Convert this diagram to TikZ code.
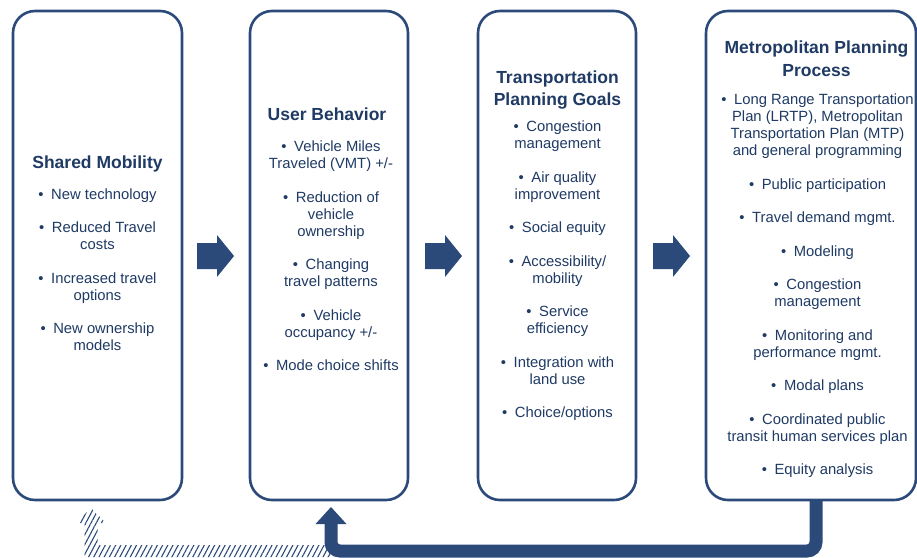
\documentclass[tikz,border=0pt]{standalone}
\usepackage{fontspec}
\setmainfont{Liberation Sans}
\usetikzlibrary{patterns.meta}
\definecolor{navy}{HTML}{2B4A7A}
\definecolor{txt}{HTML}{1F3A64}
\newcommand{\bu}{•\hspace*{3.5pt} }
\tikzset{
  box/.style={draw=navy, line width=2.6pt, rounded corners=22pt, fill=white},
  ttl/.style={anchor=base, align=center, text=txt, inner sep=0pt,
    font=\fontsize{17.5}{22.5}\selectfont\bfseries},
  itm/.style={anchor=base, align=center, text=txt, inner sep=0pt,
    font=\fontsize{14.8}{17}\selectfont},
  blockarrow/.style={fill=navy, draw=none},
  ret/.style={draw=navy, line width=13pt, rounded corners=9pt},
  hatch/.style={pattern={Lines[angle=62,distance=4.6pt,line width=1.1pt]}, pattern color=navy}
}
\begin{document}
\begin{tikzpicture}[x=1pt,y=-1pt]
\useasboundingbox (0,0) rectangle (917,557);
\begin{scope}
\clip (0,0) rectangle (917,557);
% hatched (shadow) return arrow
\fill[hatch] (84.5,557) -- (84.5,523) -- (76,523) -- (91,508) -- (106,523) -- (97.5,523)
  -- (97.5,545) -- (331,545) -- (331,557) -- cycle;
% boxes
\node[box, minimum width=169pt, minimum height=489pt] (b1) at (97.5,255.5) {};
\node[box, minimum width=158pt, minimum height=489pt] (b2) at (329,255.5) {};
\node[box, minimum width=158pt, minimum height=489pt] (b3) at (557,255.5) {};
\node[box, minimum width=210pt, minimum height=489pt] (b4) at (811,255.5) {};
\end{scope}
% block arrows
\foreach \x/\n in {197/a1,425/a2,653/a3}{
  \fill[blockarrow] (\x,243) -- (\x+20,243) -- (\x+20,235) -- (\x+37,256)
    -- (\x+20,277) -- (\x+20,269) -- (\x,269) -- cycle;
}
% return arrow
\coordinate (rs) at (816,500);
\coordinate (re) at (331,524);
\draw[ret] (rs) -- (rs |- 0,551) -- (re |- 0,551) -- (re);
\fill[navy] (315.5,524) -- (331,507) -- (346.5,524) -- cycle;
% texts (base anchor = baseline of the last line)
\node[ttl] (t1) at (97.5,168) {Shared Mobility};
\node[itm] (i1) at (97.5,350.5) {\bu New technology\\[16.5pt]
\bu Reduced Travel\\costs\\[16.5pt]
\bu Increased travel\\options\\[16.5pt]
\bu New ownership\\models};

\node[ttl] (t2) at (327,120.5) {User Behavior};
\node[itm] (i2) at (331,370.5) {\bu Vehicle Miles\\Traveled (VMT) +/-\\[16.5pt]
\bu Reduction of\\vehicle\\ownership\\[16.5pt]
\bu Changing\\travel patterns\\[16.5pt]
\bu Vehicle\\occupancy +/-\\[16.5pt]
\bu Mode choice shifts};

\node[ttl] (t3) at (557.5,105.5) {Transportation\\Planning Goals};
\node[itm] (i3) at (557.5,417.5) {\bu Congestion\\management\\[16.5pt]
\bu Air quality\\improvement\\[16.5pt]
\bu Social equity\\[16.5pt]
\bu Accessibility/\\mobility\\[16.5pt]
\bu Service\\efficiency\\[16.5pt]
\bu Integration with\\land use\\[16.5pt]
\bu Choice/options};

\node[ttl] (t4) at (816.5,76) {Metropolitan Planning\\Process};
\node[itm] (i4) at (817.5,474.5) {\bu Long Range Transportation\\Plan (LRTP), Metropolitan\\Transportation Plan (MTP)\\and general programming\\[16.5pt]
\bu Public participation\\[16.5pt]
\bu Travel demand mgmt.\\[16.5pt]
\bu Modeling\\[16.5pt]
\bu Congestion\\management\\[16.5pt]
\bu Monitoring and\\performance mgmt.\\[16.5pt]
\bu Modal plans\\[16.5pt]
\bu Coordinated public\\transit human services plan\\[16.5pt]
\bu Equity analysis};
\end{tikzpicture}
\end{document}
